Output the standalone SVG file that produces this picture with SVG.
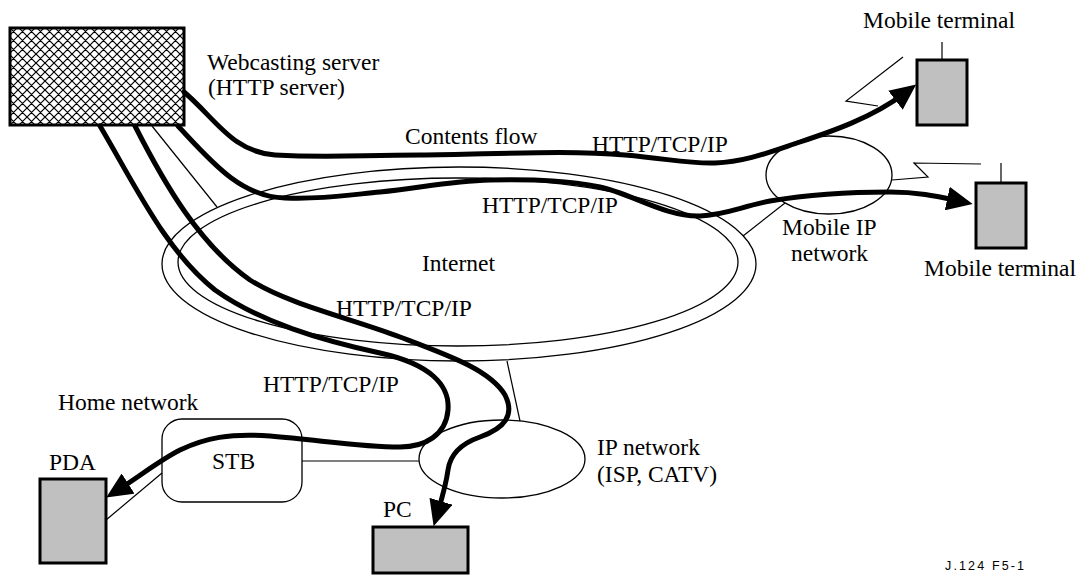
<svg xmlns="http://www.w3.org/2000/svg" width="1082" height="575" viewBox="0 0 1082 575">
  <style>
    .t { font-family: "Liberation Serif", "Times New Roman", serif; font-size: 23.5px; fill: #000; }
    .ref { font-family: "Liberation Sans", Arial, sans-serif; font-size: 12.5px; fill: #000; }
    .thin { fill: none; stroke: #000; stroke-width: 1.2; }
    .net { fill: none; stroke: #000; stroke-width: 1.3; }
    .dev { fill: #c0c0c0; stroke: #000; stroke-width: 3; }
    .flow { fill: none; stroke: #000; stroke-width: 5; stroke-linecap: round; stroke-linejoin: round; }
  </style>
  <defs>
    <pattern id="hatch" patternUnits="userSpaceOnUse" width="9" height="9">
      <rect width="9" height="9" fill="#fff"/>
      <path d="M0,0 L9,9 M0,9 L9,0 M-2,7 L2,11 M7,-2 L11,2 M-2,2 L2,-2 M7,11 L11,7" stroke="#000" stroke-width="1.2"/>
    </pattern>
    <marker id="head" markerUnits="userSpaceOnUse" viewBox="0 0 26 24" markerWidth="26" markerHeight="24" refX="12" refY="12" orient="auto">
      <path d="M0,0 L26,12 L0,24 z" fill="#000"/>
    </marker>
  </defs>

  <rect width="1082" height="575" fill="#fff"/>

  <!-- Internet cloud: double ellipse -->
  <g id="internet">
    <ellipse class="net" cx="459" cy="264" rx="297" ry="97"/>
    <ellipse class="net" cx="458" cy="262" rx="280" ry="84"/>
    <text class="t" x="422" y="271">Internet</text>
  </g>

  <!-- Mobile IP network -->
  <g id="mobile-ip-network">
    <ellipse class="net" cx="829" cy="175" rx="63" ry="39"/>
    <text class="t" x="782" y="235">Mobile IP</text>
    <text class="t" x="791" y="261">network</text>
  </g>

  <!-- IP network (ISP, CATV) -->
  <g id="ip-network">
    <ellipse class="net" cx="502" cy="459" rx="83" ry="39"/>
    <text class="t" x="597" y="455">IP network</text>
    <text class="t" x="597" y="482">(ISP, CATV)</text>
  </g>

  <!-- Home network with set-top box -->
  <g id="stb">
    <text class="t" x="58" y="410">Home network</text>
    <rect class="net" x="162" y="419" width="140" height="83" rx="20" ry="20"/>
    <text class="t" x="212" y="469">STB</text>
  </g>

  <!-- Webcasting server -->
  <g id="server">
    <rect x="10" y="28" width="174" height="97" fill="url(#hatch)" stroke="#000" stroke-width="3"/>
    <text class="t" x="207" y="70">Webcasting server</text>
    <text class="t" x="208" y="95">(HTTP server)</text>
  </g>

  <!-- End devices -->
  <g id="pda">
    <text class="t" x="49" y="470">PDA</text>
    <rect class="dev" x="40" y="479" width="66" height="84"/>
  </g>
  <g id="pc">
    <text class="t" x="383" y="517">PC</text>
    <rect class="dev" x="373" y="527" width="95" height="46"/>
  </g>
  <g id="mobile-terminal-1">
    <text class="t" x="863" y="28">Mobile terminal</text>
    <line class="thin" x1="942" y1="42" x2="942" y2="60"/>
    <rect class="dev" x="917" y="60" width="50" height="65"/>
  </g>
  <g id="mobile-terminal-2">
    <line class="thin" x1="1001" y1="163" x2="1001" y2="183"/>
    <rect class="dev" x="976" y="183" width="50" height="65"/>
    <text class="t" x="924" y="276">Mobile terminal</text>
  </g>

  <g id="connectors">
    <!-- physical links -->
    <line class="thin" x1="152" y1="126" x2="217" y2="207"/>
    <line class="thin" x1="743" y1="236" x2="785" y2="203"/>
    <line class="thin" x1="507" y1="361" x2="520" y2="421"/>
    <line class="thin" x1="302" y1="461" x2="419" y2="461"/>
    <line class="thin" x1="162" y1="473" x2="106" y2="520"/>
    <!-- radio links -->
    <polyline class="thin" points="903,57 846,101 878,106"/>
    <polyline class="thin" points="981,164 914,163 928,177 892,180"/>

    <!-- contents flows -->
    <path class="flow" marker-end="url(#head)" d="M184,92 C215,118 232,152 275,155 C330,158 360,155 420,155 C500,154 570,150 625,155 C670,159 690,164 715,163 C745,162 770,152 800,142 C830,132 872,118 905,93"/>
    <path class="flow" marker-end="url(#head)" d="M178,126 C210,160 240,197 285,198 C320,199 340,196 380,192 C420,188 450,181 490,180 C540,179 570,181 600,187 C630,193 665,217 700,216 C725,215 740,207 770,201 C800,196 840,192 890,192 C920,192 940,197 959,201"/>
    <path class="flow" marker-end="url(#head)" d="M100,126 C135,185 165,250 215,290 C260,322 320,340 380,353 C430,364 450,385 448,410 C446,435 425,447 400,447 C360,447 320,440 270,436 C230,433 205,438 180,450 C160,460 140,476 118,490"/>
    <path class="flow" marker-end="url(#head)" d="M135,126 C165,185 200,245 250,280 C290,305 350,318 400,337 C450,356 490,370 505,395 C515,415 505,428 480,437 C460,444 450,455 448,470 C446,485 442,498 437.6,512.8"/>
  </g>

  <g id="flow-labels">
    <text class="t" x="405" y="144">Contents flow</text>
    <text class="t" x="592" y="152">HTTP/TCP/IP</text>
    <text class="t" x="482" y="213">HTTP/TCP/IP</text>
    <text class="t" x="336" y="316">HTTP/TCP/IP</text>
    <text class="t" x="263" y="392">HTTP/TCP/IP</text>
  </g>

  <text class="ref" x="945" y="570" textLength="79" lengthAdjust="spacing">J.124  F5-1</text>
</svg>
